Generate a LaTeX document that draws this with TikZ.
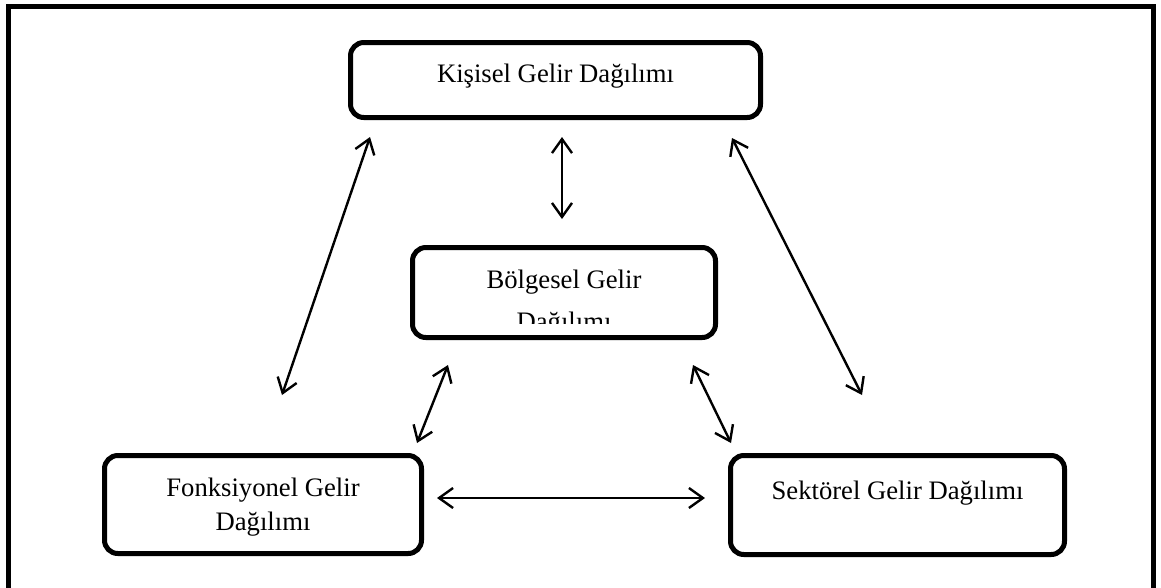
\documentclass[tikz,border=0pt]{standalone}
\usepackage{fontspec}
\setmainfont{Liberation Serif}
\usetikzlibrary{arrows.meta}
\tikzset{
  box/.style={draw=black, line width=3.75pt, rounded corners=10pt, fill=white, inner sep=0pt},
  lbl/.style={font=\fontsize{20}{25.5}\selectfont, align=center, anchor=base, inner sep=0pt},
  link/.style={line width=1.8pt, {Straight Barb[length=10.5pt,width=15pt,line width=1.8pt]}-{Straight Barb[length=10.5pt,width=15pt,line width=1.8pt]}},
  frame/.style={line width=3.75pt}
}
\begin{document}
\begin{tikzpicture}[x=0.75pt,y=-0.75pt]
\useasboundingbox (0,0) rectangle (1161,587);
\clip (0,0) rectangle (1161,587);
% outer frame (bottom edge falls outside the picture)
\coordinate (fbl) at (8,620);
\coordinate (ftl) at (8,6.5);
\coordinate (ftr) at (1153,6.5);
\coordinate (fbr) at (1153,620);
\draw[frame] (fbl) -- (ftl) -- (ftr) -- (fbr);

% boxes
\node[box, minimum width=307.5pt, minimum height=56.25pt] (kis) at (555.5,80) {};
\node[box, minimum width=227.25pt, minimum height=67.5pt] (bol) at (564,292.5) {};
\node[box, minimum width=237.75pt, minimum height=73.5pt] (fon) at (263,504.5) {};
\node[box, minimum width=250.5pt, minimum height=74.25pt] (sek) at (897.5,505) {};

% texts
\node[lbl] (kist) at (555.5,82) {Kişisel Gelir Dağılımı};
\node[lbl] (bolt1) at (564,288) {Bölgesel Gelir};
\begin{scope}
  \clip (415,250) rectangle (713,323);
  \node[lbl] (bolt2) at (564,330) {Dağılımı};
\end{scope}
\node[lbl] (font) at (263,530) {Fonksiyonel Gelir\\Dağılımı};
\node[lbl] (sekt) at (897.5,499) {Sektörel Gelir Dağılımı};

% connector end points
\coordinate (a1a) at (370,137);
\coordinate (a1b) at (282,395);
\coordinate (a2a) at (562,137);
\coordinate (a2b) at (562,219);
\coordinate (a3a) at (732,138);
\coordinate (a3b) at (862,395);
\coordinate (a4a) at (448,365);
\coordinate (a4b) at (417,443);
\coordinate (a5a) at (693,365);
\coordinate (a5b) at (731,443);
\coordinate (a6a) at (437,498);
\coordinate (a6b) at (705,498);

\draw[link] (a1a) -- (a1b);
\draw[link] (a2a) -- (a2b);
\draw[link] (a3a) -- (a3b);
\draw[link] (a4a) -- (a4b);
\draw[link] (a5a) -- (a5b);
\draw[link] (a6a) -- (a6b);
\end{tikzpicture}
\end{document}
